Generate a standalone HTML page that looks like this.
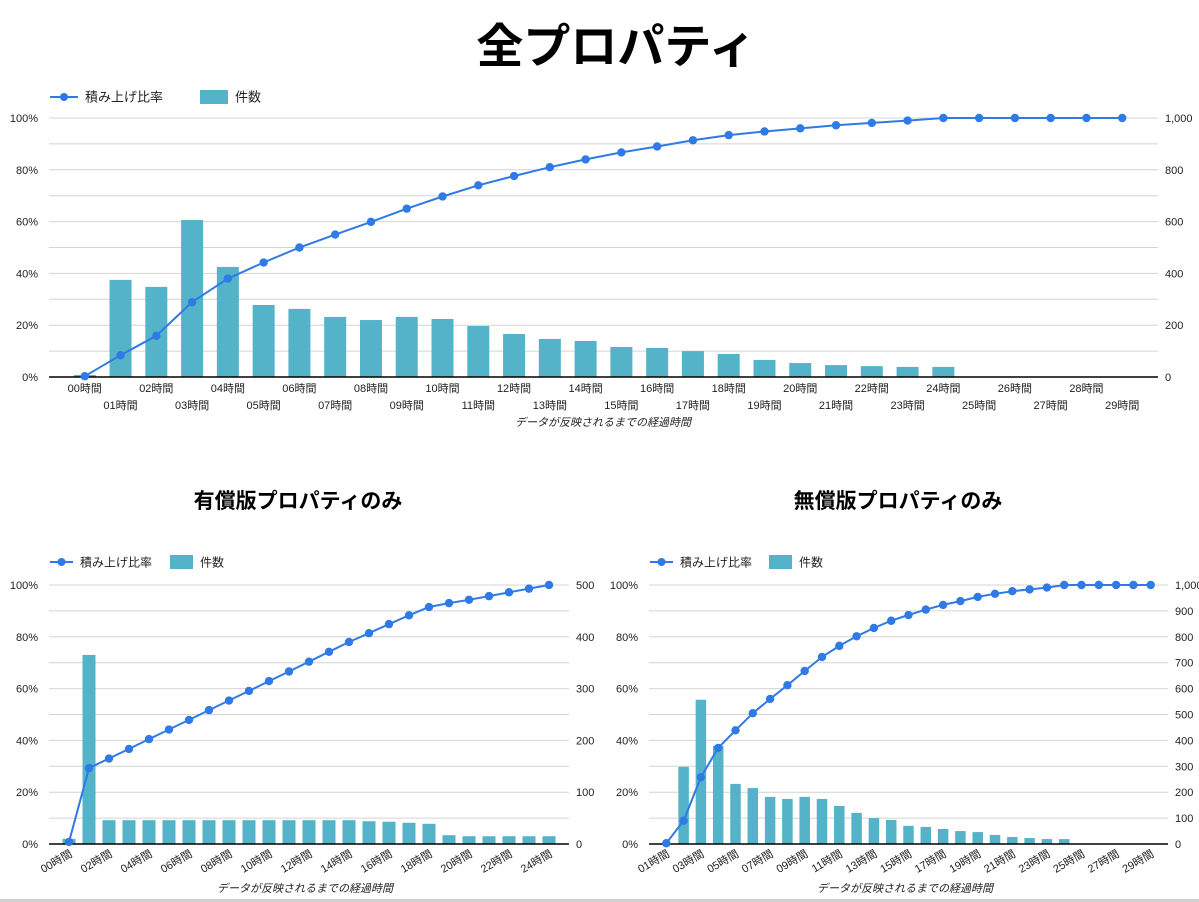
<!DOCTYPE html>
<html><head><meta charset="utf-8">
<style>
html,body{margin:0;padding:0;background:#fff;}
svg{display:block;font-family:"Liberation Sans","Noto Sans CJK JP",sans-serif;}
</style></head>
<body>
<svg id="s" width="1199" height="902" viewBox="0 0 1199 902" xmlns="http://www.w3.org/2000/svg">
<text x="616" y="63" font-size="47" font-weight="bold" text-anchor="middle" fill="#000">全プロパティ</text>
<text x="298" y="508" font-size="21" font-weight="bold" text-anchor="middle" fill="#000">有償版プロパティのみ</text>
<text x="898" y="508" font-size="21" font-weight="bold" text-anchor="middle" fill="#000">無償版プロパティのみ</text>
<rect x="0" y="899" width="1199" height="3" fill="#d0d0d0"/>
</svg>
<script>
// ---- Chart A: all properties ----
const catsA = ["00","01","02","03","04","05","06","07","08","09","10","11","12","13","14","15","16","17","18","19","20","21","22","23","24","25","26","27","28","29"];
const countsA = [8,375,348,606,425,278,263,232,220,232,224,197,166,147,139,116,112,100,89,66,54,46,42,39,39,0,0,0,0,1];
const cumA = [0.3,8.4,15.9,28.9,38,44.2,50,55,59.9,65,69.7,74,77.6,81,84,86.7,89,91.4,93.4,94.8,96,97.2,98.1,99,100,100,100,100,100,100];
const rightTicksA = ["0","200","400","600","800","1,000"];
const rightMaxA = 1000;
// ---- Chart B: paid ----
const catsB = ["00","01","02","03","04","05","06","07","08","09","10","11","12","13","14","15","16","17","18","19","20","21","22","23","24"];
const countsB = [10,365,46,46,46,46,46,46,46,46,46,46,46,46,46,44,43,41,39,17,15,15,15,15,15];
const cumB = [0.8,29.3,33,36.7,40.5,44.2,47.9,51.7,55.4,59.1,62.9,66.6,70.4,74.2,78,81.4,84.9,88.3,91.5,93,94.3,95.7,97.2,98.6,100];
const rightTicksB = ["0","100","200","300","400","500"];
const rightMaxB = 500;
// ---- Chart C: free ----
const catsC = ["01","02","03","04","05","06","07","08","09","10","11","12","13","14","15","16","17","18","19","20","21","22","23","24","25","26","27","28","29"];
const countsC = [2,298,557,379,232,216,182,174,182,174,147,120,100,93,70,66,58,50,46,35,27,23,19,19,0,0,0,0,1];
const cumC = [0.3,9,25.8,37.1,43.9,50.5,56,61.3,66.8,72.2,76.5,80.2,83.4,86.2,88.4,90.5,92.3,93.8,95.4,96.6,97.6,98.3,99,100,100,100,100,100,100];
const rightTicksC = ["0","100","200","300","400","500","600","700","800","900","1,000"];
const rightMaxC = 1000;
const leftTicks = ["0%","20%","40%","60%","80%","100%"];

const svg = document.getElementById('s');
const NS = "http://www.w3.org/2000/svg";
function mk(tag, attrs, parent){
  const e = document.createElementNS(NS, tag);
  for (const k in attrs) e.setAttribute(k, attrs[k]);
  (parent||svg).appendChild(e);
  return e;
}

function drawChart(o){
  const g = mk('g', {});
  
  
  const n = o.cats.length;
  const step = (o.x1 - o.x0) / (n + 1);
  const xAt = i => o.x0 + step * (i + 1);
  const yPct = v => o.yb - (o.yb - o.yt) * v / 100;
  const yCnt = v => o.yb - (o.yb - o.yt) * v / o.rmax;
  // legend
  const lg = mk('g', {}, g);
  
  
  const l1 = mk('g', {}, lg);
  
  
  mk('line', {x1:o.lx, y1:o.ly, x2:o.lx+o.lw, y2:o.ly, stroke:'#2f7ae5', 'stroke-width':2}, l1);
  mk('circle', {cx:o.lx+o.lw/2, cy:o.ly, r:4, fill:'#2f7ae5'}, l1);
  const t1 = mk('text', {x:o.lx+o.lw+7, y:o.ly+4.5, 'font-size':o.lfs, fill:'#222'}, l1);
  t1.textContent = '積み上げ比率';
  const l2 = mk('g', {}, lg);
  
  
  mk('rect', {x:o.sx, y:o.ly-7, width:o.lw, height:14, fill:'#55b3c9'}, l2);
  const t2 = mk('text', {x:o.sx+o.lw+7, y:o.ly+4.5, 'font-size':o.lfs, fill:'#222'}, l2);
  t2.textContent = '件数';
  // gridlines (10 divisions)
  for (let k = 1; k <= 10; k++){
    const y = o.yb - (o.yb - o.yt) * k / 10;
    const gl = mk('line', {x1:o.x0, x2:o.x1, y1:y, y2:y, stroke:'#d4d4d4', 'stroke-width':1}, g);
    
    
  }
  // left ticks
  leftTicks.forEach((t, i) => {
    const tx = mk('text', {x:o.x0-11, y:yPct(i*20)+4, 'font-size':11, 'text-anchor':'end', fill:'#222'}, g);
    
    
    tx.textContent = t;
  });
  // right ticks
  o.rticks.forEach((t, i) => {
    const v = o.rmax * i / (o.rticks.length - 1);
    const tx = mk('text', {x:o.x1+7, y:yCnt(v)+4, 'font-size':11, fill:'#222'}, g);
    
    
    tx.textContent = t;
  });
  // bars
  o.counts.forEach((v, i) => {
    const y = yCnt(v);
    const b = mk('rect', {x:xAt(i)-o.bw/2, y:y, width:o.bw, height:Math.max(0, o.yb-y), fill:'#55b3c9'}, g);
    
    
  });
  // baseline
  const bl = mk('line', {x1:o.x0, x2:o.x1, y1:o.yb, y2:o.yb, stroke:'#000', 'stroke-width':1.5}, g);
  
  
  // line
  const pts = o.cum.map((v, i) => xAt(i).toFixed(1) + ',' + yPct(v).toFixed(1)).join(' ');
  const pl = mk('polyline', {points:pts, fill:'none', stroke:'#2f7ae5', 'stroke-width':2}, g);
  
  
  o.cum.forEach((v, i) => {
    const c = mk('circle', {cx:xAt(i), cy:yPct(v), r:4.2, fill:'#2f7ae5'}, g);
    
    
  });
  // x labels
  o.cats.forEach((c, i) => {
    const x = xAt(i);
    if (o.rotate){
      if (i % 2 !== 0) return;
      const tx = mk('text', {x:x+4, y:o.yb+12, 'font-size':11, 'text-anchor':'end', fill:'#222', transform:'rotate(-30 '+(x+4)+' '+(o.yb+12)+')'}, g);
      
      
      tx.textContent = c + '時間';
    } else {
      const tx = mk('text', {x:x, y:o.yb + (i % 2 === 0 ? 15 : 32), 'font-size':11, 'text-anchor':'middle', fill:'#222'}, g);
      
      
      tx.textContent = c + '時間';
    }
  });
  const at = mk('text', {x:o.tx, y:o.ty, 'font-size':11, 'font-style':'italic', 'text-anchor':'middle', fill:'#222'}, g);
  
  
  at.textContent = 'データが反映されるまでの経過時間';
}

drawChart({name:'chart-all', cats:catsA, counts:countsA, cum:cumA, rticks:rightTicksA, rmax:rightMaxA,
  x0:49, x1:1158, yt:118, yb:377, bw:22, lx:50, lw:28, sx:200, ly:97, lfs:13, rotate:false, tx:603, ty:426});
drawChart({name:'chart-paid', cats:catsB, counts:countsB, cum:cumB, rticks:rightTicksB, rmax:rightMaxB,
  x0:49, x1:569, yt:585, yb:844, bw:13, lx:50, lw:23, sx:170, ly:562, lfs:12, rotate:true, tx:305, ty:892});
drawChart({name:'chart-free', cats:catsC, counts:countsC, cum:cumC, rticks:rightTicksC, rmax:rightMaxC,
  x0:649, x1:1168, yt:585, yb:844, bw:10.5, lx:650, lw:23, sx:769, ly:562, lfs:12, rotate:true, tx:905, ty:892});
</script>
</body></html>
